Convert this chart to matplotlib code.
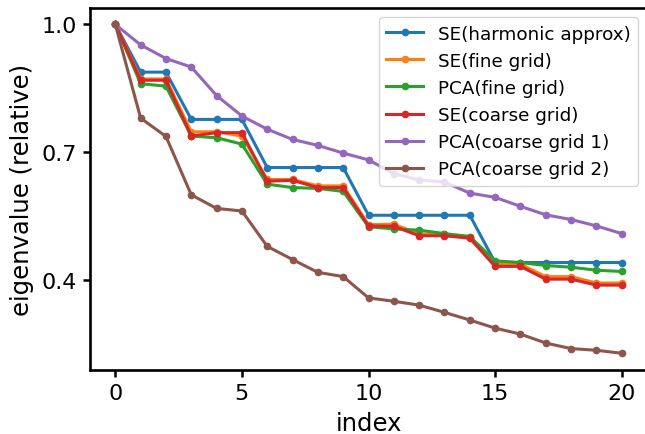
import numpy as np
import matplotlib.pyplot as plt

# eigenvalue spectra, normalised to the leading eigenvalue
idx = np.arange(21)

se_harmonic = [1.0, 0.888, 0.888, 0.777, 0.777, 0.777, 0.664, 0.664, 0.664, 0.664,
               0.552, 0.552, 0.552, 0.552, 0.552, 0.441, 0.441, 0.441, 0.441, 0.441, 0.441]
se_fine = [1.0, 0.872, 0.872, 0.748, 0.748, 0.738, 0.636, 0.636, 0.621, 0.621,
           0.530, 0.531, 0.508, 0.508, 0.502, 0.439, 0.437, 0.408, 0.408, 0.393, 0.393]
pca_fine = [1.0, 0.861, 0.855, 0.738, 0.734, 0.719, 0.625, 0.617, 0.615, 0.608,
            0.525, 0.520, 0.517, 0.509, 0.502, 0.445, 0.441, 0.434, 0.430, 0.423, 0.420]
se_coarse = [1.0, 0.869, 0.869, 0.738, 0.746, 0.746, 0.632, 0.634, 0.617, 0.617,
             0.527, 0.526, 0.504, 0.504, 0.498, 0.432, 0.432, 0.402, 0.402, 0.388, 0.388]
pca_coarse1 = [1.0, 0.952, 0.920, 0.900, 0.833, 0.785, 0.754, 0.730, 0.716, 0.698,
               0.682, 0.650, 0.635, 0.630, 0.604, 0.594, 0.573, 0.553, 0.542, 0.527, 0.509]
pca_coarse2 = [1.0, 0.780, 0.737, 0.600, 0.568, 0.562, 0.479, 0.448, 0.418, 0.408,
               0.358, 0.350, 0.341, 0.324, 0.306, 0.287, 0.273, 0.252, 0.239, 0.235, 0.228]

series = [
    ("SE(harmonic approx)", se_harmonic),
    ("SE(fine grid)", se_fine),
    ("PCA(fine grid)", pca_fine),
    ("SE(coarse grid)", se_coarse),
    ("PCA(coarse grid 1)", pca_coarse1),
    ("PCA(coarse grid 2)", pca_coarse2),
]

fig = plt.figure(figsize=(6.45, 4.35), dpi=100)
ax = fig.add_axes([90 / 645, 64.3 / 435, 557 / 645, 361.7 / 435])

for label, vals in series:
    ax.plot(idx, vals, marker=".", markersize=9, linewidth=2.2, label=label)

ax.set_yticks([0.4, 0.7, 1.0])
ax.set_xticks([0, 5, 10, 15, 20])
ax.tick_params(labelsize=16, width=1.8, length=5, pad=4.5)
for sp in ax.spines.values():
    sp.set_linewidth(1.9)
ax.set_xlabel("index", fontsize=17.5, labelpad=6)
ax.set_ylabel("eigenvalue (relative)", fontsize=17.5, labelpad=5)
ax.legend(fontsize=13.2, loc="upper right")

fig.savefig("out.png", dpi=100)
